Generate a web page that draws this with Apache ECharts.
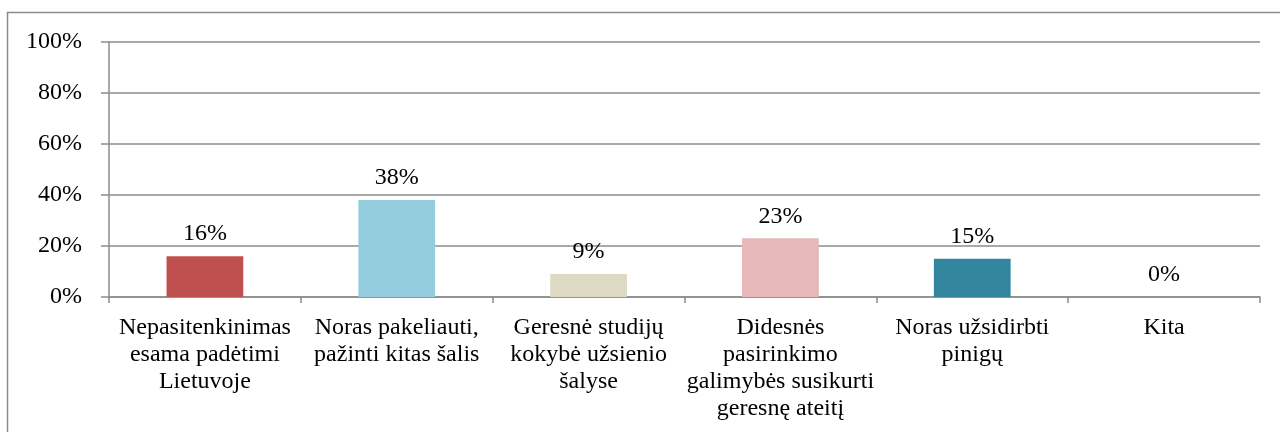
<!DOCTYPE html>
<html>
<head>
<meta charset="utf-8">
<script src="https://cdn.jsdelivr.net/npm/echarts@6/dist/echarts.min.js"></script>
<style>
  html, body { margin: 0; padding: 0; background: #fff; }
  #chart { width: 1280px; height: 432px; }
</style>
</head>
<body>
<div id="chart"></div>
<script>
  // priežastys
  var categories = [
    'Nepasitenkinimas\nesama padėtimi\nLietuvoje',
    'Noras pakeliauti,\npažinti kitas šalis',
    'Geresnė studijų\nkokybė užsienio\nšalyse',
    'Didesnės\npasirinkimo\ngalimybės susikurti\ngeresnę ateitį',
    'Noras užsidirbti\npinigų',
    'Kita'
  ];
  var values = [16, 38, 9, 23, 15, 0];
  var barColors = ['#C0504D', '#93CDDD', '#DDD9C3', '#E6B9B8', '#31859C', '#4F81BD'];
  var yTicks = [0, 20, 40, 60, 80, 100];

  var font = '"Liberation Serif", "Times New Roman", serif';
  var myChart = echarts.init(document.getElementById('chart'));

  var option = {
    backgroundColor: '#fff',
    animation: false,
    graphic: [{
      type: 'rect',
      shape: { x: 7.5, y: 12.5, width: 1400, height: 600 },
      style: { fill: 'none', stroke: '#8c8c8c', lineWidth: 1.5 },
      silent: true
    }],
    grid: { left: 109, right: 20, top: 42, bottom: 135 },
    xAxis: {
      type: 'category',
      data: categories,
      axisLine: { lineStyle: { color: '#8c8c8c', width: 1.5 } },
      axisTick: { show: true, length: 6, lineStyle: { color: '#8c8c8c', width: 1.5 } },
      axisLabel: {
        interval: 0,
        color: '#000',
        fontFamily: font,
        fontSize: 24,
        lineHeight: 27,
        margin: 17,
        align: 'center'
      }
    },
    yAxis: {
      type: 'value',
      min: yTicks[0],
      max: yTicks[yTicks.length - 1],
      interval: 20,
      axisLine: { show: true, lineStyle: { color: '#8c8c8c', width: 1.5 } },
      axisTick: { show: true, length: 8, lineStyle: { color: '#8c8c8c', width: 1.5 } },
      splitLine: { lineStyle: { color: '#8c8c8c', width: 1.5 } },
      axisLabel: {
        formatter: '{value}%',
        color: '#000',
        fontFamily: font,
        fontSize: 24,
        margin: 27
      }
    },
    series: [{
      type: 'bar',
      barWidth: '40%',
      data: values.map(function (v, i) {
        return { value: v, itemStyle: { color: barColors[i] } };
      }),
      label: {
        show: true,
        position: 'top',
        distance: 10,
        formatter: '{c}%',
        color: '#000',
        fontFamily: font,
        fontSize: 24
      }
    }]
  };
  myChart.setOption(option);
</script>
</body>
</html>
